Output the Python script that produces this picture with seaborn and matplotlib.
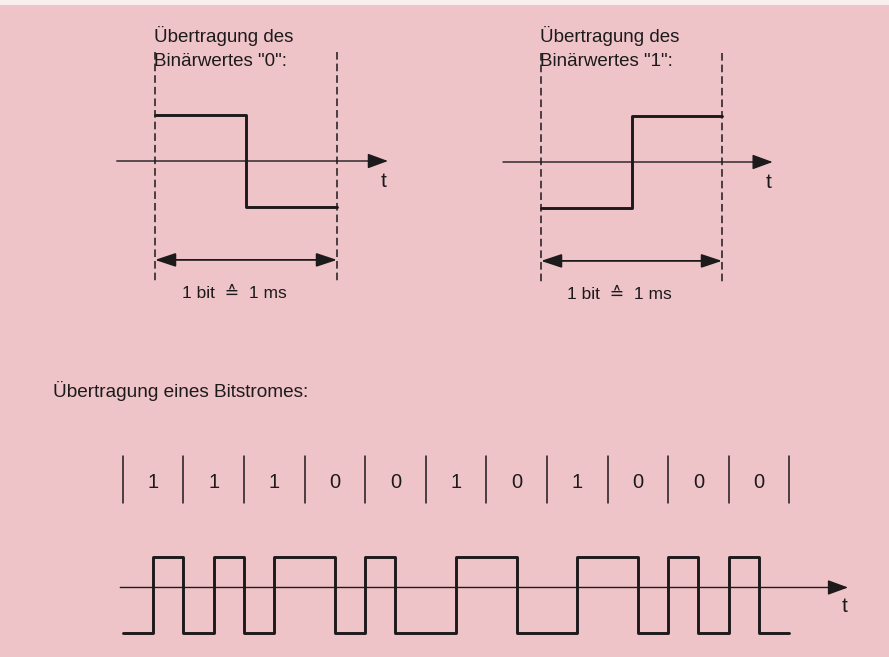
import matplotlib
matplotlib.use("Agg")
import matplotlib.pyplot as plt
import seaborn as sns
import numpy as np
from matplotlib.patches import Rectangle

# data
BITS = [1, 1, 1, 0, 0, 1, 0, 1, 0, 0, 0]
# Manchester code: level in first half, level in second half of a bit
ENCODING = {0: (1, -1), 1: (-1, 1)}
SINGLE_TITLES = [("Übertragung des", 'Binärwertes "0":'),
                 ("Übertragung des", 'Binärwertes "1":')]
SINGLE_BITS = [0, 1]
BIT_LABEL = "1 bit  \u2259  1 ms"
STREAM_TITLE = "Übertragung eines Bitstromes:"

W, H = 889, 657
BG = "#efc4c8"
INK = "#1c1a1b"


def waveform(bits):
    x, y = [], []
    for i, b in enumerate(bits):
        first, second = ENCODING[b]
        x += [i, i + 0.5]
        y += [first, second]
    x.append(len(bits))
    y.append(y[-1])
    return np.array(x, dtype=float), np.array(y, dtype=float)


def place(fig, box, x0, xu, y0, yu):
    # box in pixels (left, top, right, bottom); x0/y0 pixel of data origin, xu/yu pixels per unit
    l, t, r, b = box
    ax = fig.add_axes([l / W, 1 - b / H, (r - l) / W, (b - t) / H])
    ax.set_xlim((l - x0) / xu, (r - x0) / xu)
    ax.set_ylim((y0 - b) / yu, (y0 - t) / yu)
    ax.axis("off")
    return ax


def time_axis(ax, x_start, x_end, y):
    ax.annotate("", xy=(x_end, y), xytext=(x_start, y),
                arrowprops=dict(arrowstyle="-|>,head_length=0.9,head_width=0.33",
                                mutation_scale=14, lw=1.0, color=INK,
                                shrinkA=0, shrinkB=0))


sns.set_style("white")
plt.rcParams["font.family"] = ["Liberation Sans", "DejaVu Sans"]

fig = plt.figure(figsize=(W / 100, H / 100), dpi=100, facecolor=BG)
fig.patches.append(Rectangle((0, 1 - 5 / H), 1, 5 / H, transform=fig.transFigure,
                             facecolor="#f7eeee", edgecolor="none"))

# single-bit diagrams
boxes = [(100, 20, 420, 300), (486, 20, 806, 300)]
origins = [(155, 182, 161, 46), (541, 181, 162, 46)]
for box, org, bit, title in zip(boxes, origins, SINGLE_BITS, SINGLE_TITLES):
    ax = place(fig, box, *org)
    y0, yu = org[2], org[3]
    xs, ys = waveform([bit])
    sns.lineplot(x=xs, y=ys, ax=ax, drawstyle="steps-post", estimator=None,
                 color=INK, lw=2.1, sort=False)
    for xv in [0, 1]:
        ax.plot([xv, xv], [2.37, -2.65], color=INK, lw=1.1, dashes=(5, 2.6))
    time_axis(ax, -0.21, 1.28, 0)
    ax.text(1.255, -0.45, "t", fontsize=15, color=INK, ha="center", va="center")
    ax.annotate("", xy=(1, -2.15), xytext=(0, -2.15),
                arrowprops=dict(arrowstyle="<|-|>,head_length=0.9,head_width=0.3",
                                mutation_scale=14, lw=1.3, color=INK,
                                shrinkA=0, shrinkB=0))
    ax.text(0.435, -2.87, BIT_LABEL, fontsize=12.5, color=INK, ha="center", va="center")
    for line, base_px in zip(title, [41.7, 65.7]):
        ax.text(-0.005, (y0 - base_px) / yu, line, fontsize=13.5, color=INK,
                ha="left", va="baseline")

# bit stream
ax = place(fig, (30, 370, 880, 650), 122.7, 60.6, 594.7, 38)
ax.text(-1.15, 5.21, STREAM_TITLE, fontsize=13.7, color=INK, ha="left", va="baseline")
for k in range(len(BITS) + 1):
    ax.plot([k, k], [2.42, 3.64], color=INK, lw=1.1)
for k, b in enumerate(BITS):
    ax.text(k + 0.5, 2.95, str(b), fontsize=14.5, color=INK, ha="center", va="center")
xs, ys = waveform(BITS)
sns.lineplot(x=xs, y=ys, ax=ax, drawstyle="steps-post", estimator=None,
             color=INK, lw=2.1, sort=False)
time_axis(ax, -0.04, 11.97, 0.19)
ax.text(11.92, -0.32, "t", fontsize=15, color=INK, ha="center", va="center")

fig.savefig("out.png", dpi=100, facecolor=BG)
